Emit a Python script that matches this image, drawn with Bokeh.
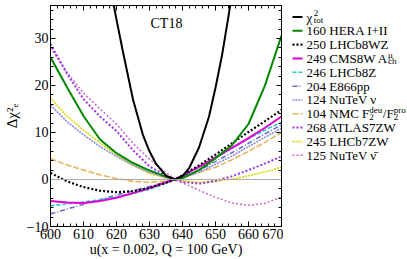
from bokeh.plotting import figure
from bokeh.models import Range1d, LinearAxis, SingleIntervalTicker, Span, Label, CustomJSTickFormatter
from bokeh.layouts import row
from bokeh.core.properties import value
from bokeh.embed import file_html
from bokeh.resources import INLINE

FONT = "'Liberation Serif', serif"

# ---------------- data ----------------
u_grid = [600, 605, 610, 615, 620, 625, 630, 635, 637.7, 640, 645, 650, 655, 660, 665, 670]

tot_u = [614, 617, 620, 622, 625, 628, 630, 632, 635, 637.7, 640, 642, 645, 648, 650, 652, 654, 656]
tot_chi2 = [60, 45, 34, 27, 17, 9.5, 6, 3.3, 0.8, 0, 0.7, 2.4, 6.8, 13.3, 19.5, 26.5, 35, 44]

hera = [26.0, 19.6, 13.5, 8.5, 5.6, 3.5, 1.9, 0.6, 0.0, 0.3, 2.0, 4.5, 7.3, 11.8, 20.0, 30.6]
lhcb8wz = [1.4, -0.4, -1.6, -2.4, -2.7, -2.5, -1.8, -0.7, 0.0, 0.9, 3.0, 5.3, 7.7, 10.1, 12.4, 14.8]
cms8w = [-4.6, -4.9, -5.0, -4.6, -3.9, -2.9, -1.8, -0.6, 0.0, 0.8, 2.7, 4.7, 6.7, 8.8, 11.0, 13.4]
lhcb8z = [-5.6, -5.2, -4.8, -4.3, -3.7, -3.0, -2.1, -0.8, 0.0, 0.8, 2.6, 4.6, 6.7, 8.7, 10.5, 12.2]
e866pp = [-7.3, -6.3, -5.3, -4.3, -3.3, -2.4, -1.5, -0.5, 0.0, 0.6, 2.0, 3.8, 5.7, 7.7, 9.7, 11.6]
nutev_nu = [15.8, 12.3, 9.5, 7.0, 4.9, 3.0, 1.5, 0.4, 0.0, 0.3, 1.6, 3.2, 5.0, 7.0, 9.0, 10.9]
nmc = [4.4, 3.1, 2.0, 1.0, 0.2, -0.4, -0.6, -0.3, 0.0, 0.4, 1.5, 2.6, 4.2, 6.0, 7.9, 10.0]
atlas7zw = [28.8, 22.5, 17.1, 13.4, 10.3, 6.2, 2.8, 0.8, 0.0, -0.5, -0.9, -0.3, 0.7, 2.0, 3.4, 4.9]
lhcb7zw = [17.3, 13.5, 10.5, 7.8, 5.2, 3.0, 1.3, 0.3, 0.0, -0.3, -0.6, -0.4, 0.1, 0.8, 1.6, 2.6]
nutev_nubar = [28.0, 22.8, 18.4, 15.0, 11.8, 7.7, 4.3, 1.5, 0.0, -0.7, -2.3, -3.8, -5.0, -5.5, -5.1, -3.7]

x_ticks_interval = 10
y_ticks_interval = 10

# (legend parts, x, y, color, width, dash)
series = [
    ([("χ", "n"), (("tot", "2"), "ss")], tot_u, tot_chi2, "#000000", 2.0, "solid"),
    ([("160 HERA I+II", "n")], u_grid, hera, "#008800", 2.0, "solid"),
    ([("250 LHCb8WZ", "n")], u_grid, lhcb8wz, "#000000", 2.2, "2 2"),
    ([("249 CMS8W A", "n"), (("ch", "μ"), "ss")], u_grid, cms8w, "#e000d0", 2.0, "solid"),
    ([("246 LHCb8Z", "n")], u_grid, lhcb8z, "#22cccc", 1.6, "4 2"),
    ([("204 E866pp", "n")], u_grid, e866pp, "#6666cc", 1.5, "5 2 1 2"),
    ([("124 NuTeV ν", "n")], u_grid, nutev_nu, "#8888dd", 1.6, "2 1"),
    ([("104 NMC F", "n"), (("2", "deu"), "ss"), ("/F", "n"), (("2", "pro"), "ss")], u_grid, nmc, "#e6b65a", 1.6, "6 2"),
    ([("268 ATLAS7ZW", "n")], u_grid, atlas7zw, "#9933ee", 2.0, "2 2"),
    ([("245 LHCb7ZW", "n")], u_grid, lhcb7zw, "#d8d800", 1.6, "2 1"),
    ([("125 NuTeV ν\u0304", "n")], u_grid, nutev_nubar, "#cc66cc", 1.5, "2 2"),
]

W_MAIN, H = 283, 259
W_LEG = 124

p = figure(width=W_MAIN, height=H, x_range=Range1d(600, 670), y_range=Range1d(-10, 37),
           output_backend="svg", toolbar_location=None,
           min_border_left=45, min_border_right=2, min_border_top=5, min_border_bottom=31)
p.xgrid.visible = False
p.ygrid.visible = False
p.outline_line_color = "black"
p.outline_line_width = 1

def style_axis(ax, labels=True):
    ax.major_tick_in = 5
    ax.major_tick_out = 0
    ax.minor_tick_in = 3
    ax.minor_tick_out = 0
    ax.axis_line_color = "black"
    ax.major_tick_line_color = "black"
    ax.minor_tick_line_color = "black"
    if labels:
        ax.major_label_text_font = FONT
        ax.major_label_text_font_size = "14px"
        ax.major_label_text_color = "black"
        ax.major_label_standoff = 2
        ax.axis_label_text_font = FONT
        ax.axis_label_text_font_size = "14px"
        ax.axis_label_text_font_style = "normal"
        ax.axis_label_text_color = "black"
        ax.axis_label_standoff = 0
    else:
        ax.formatter = CustomJSTickFormatter(code="return ''")
        ax.major_label_standoff = 0

xt = SingleIntervalTicker(interval=x_ticks_interval, num_minor_ticks=5)
yt = SingleIntervalTicker(interval=y_ticks_interval, num_minor_ticks=5)
p.xaxis.ticker = xt
p.yaxis.ticker = yt
p.xaxis.axis_label = "u(x = 0.002, Q = 100 GeV)"
p.yaxis.axis_label = "Δχ²ₑ"
for ax in p.xaxis + p.yaxis:
    style_axis(ax)
p.yaxis.axis_label_text_font_size = "15px"
p.yaxis.axis_label_standoff = 4

top = LinearAxis(ticker=SingleIntervalTicker(interval=x_ticks_interval, num_minor_ticks=5))
right = LinearAxis(ticker=SingleIntervalTicker(interval=y_ticks_interval, num_minor_ticks=5))
style_axis(top, labels=False)
style_axis(right, labels=False)
p.add_layout(top, "above")
p.add_layout(right, "right")

p.add_layout(Span(location=0, dimension="width", line_color="#aaaaaa", line_width=1))

# draw in reverse so chi2_tot is on top
for parts, xs, ys, col, lw, dash in reversed(series):
    p.line(xs, ys, line_color=col, line_width=lw, line_dash=dash)

p.add_layout(Label(x=630.3, y=33.2, text="CT18", text_font=FONT, text_font_size="14px",
                   text_baseline="middle", text_color="black"))

# ---------------- legend panel ----------------
lg = figure(width=W_LEG, height=H, x_range=Range1d(0, W_LEG), y_range=Range1d(H, 0),
            output_backend="svg", toolbar_location=None, min_border=0,
            x_axis_location=None, y_axis_location=None, outline_line_color=None)
for g in lg.grid:
    g.visible = False

CW = {c: 500 for c in "0123456789"}
CW.update({" ": 250, "A": 722, "B": 667, "C": 667, "D": 722, "E": 611, "F": 556, "G": 722,
           "H": 722, "I": 333, "L": 611, "M": 889, "N": 722, "R": 667, "S": 556, "T": 611,
           "V": 722, "W": 944, "Z": 611, "a": 444, "b": 500, "c": 444, "d": 500, "e": 444,
           "h": 500, "o": 500, "p": 500, "r": 333, "t": 278, "u": 500, "v": 500, "+": 564,
           "/": 278, "χ": 549, "μ": 576, "ν": 521, "\u0304": 0})

def tw(s, fs):
    return sum(CW.get(c, 500) for c in s) * fs / 1000.0

FS, FS_S = 13, 9
row0, dy = 13.5, 16.2
for i, (parts, xs, ys, col, lw, dash) in enumerate(series):
    yc = row0 + i * dy
    lg.line([9, 19], [yc, yc], line_color=col, line_width=lw, line_dash=dash)
    x = 23
    for content, kind in parts:
        if kind == "n":
            lg.text(x=[x], y=[yc], text=[content], text_font=value(FONT), text_font_size=f"{FS}px",
                    text_baseline="middle", text_align="left", text_color="black")
            x += tw(content, FS)
        else:
            sub, sup = content
            lg.text(x=[x], y=[yc + 3.5], text=[sub], text_font=value(FONT), text_font_size=f"{FS_S}px",
                    text_baseline="middle", text_align="left", text_color="black")
            lg.text(x=[x], y=[yc - 4.5], text=[sup], text_font=value(FONT), text_font_size=f"{FS_S}px",
                    text_baseline="middle", text_align="left", text_color="black")
            x += max(tw(sub, FS_S), tw(sup, FS_S)) + 0.5

layout = row(p, lg)
open("out.html", "w").write(file_html(layout, INLINE))
